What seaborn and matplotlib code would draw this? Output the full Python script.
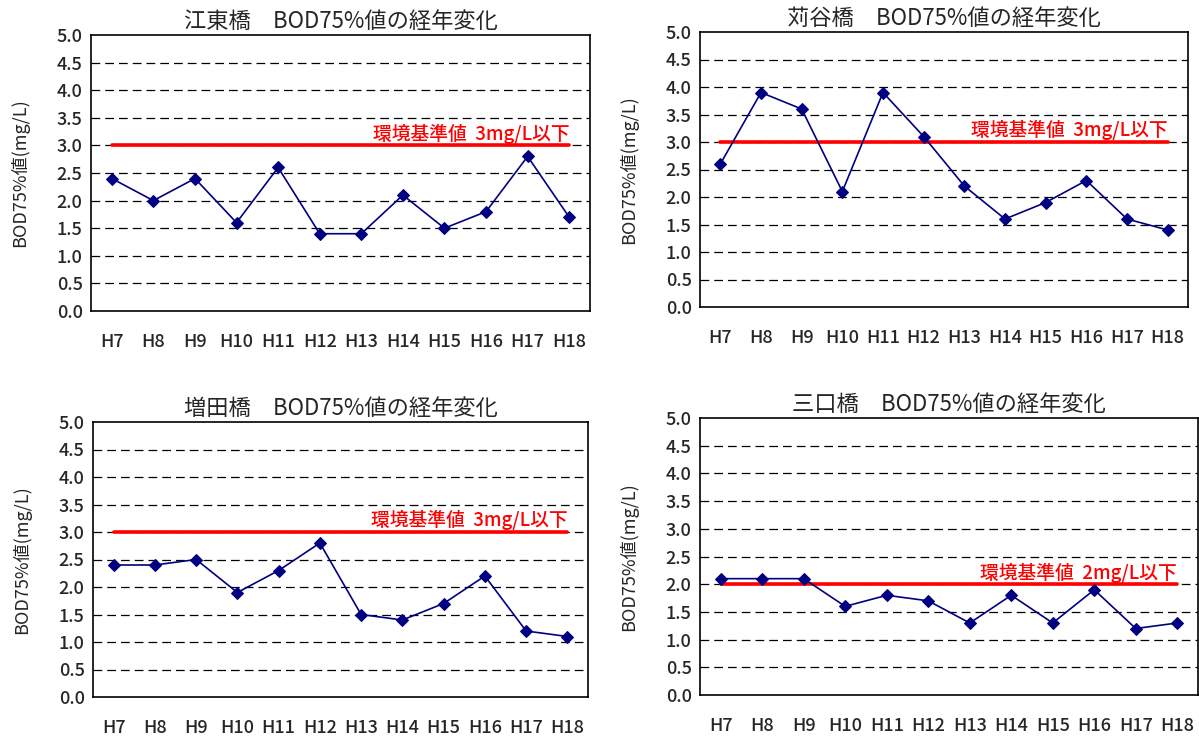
import matplotlib
matplotlib.use("Agg")
import matplotlib.pyplot as plt
import seaborn as sns
import numpy as np
import pandas as pd

sns.set_style("white")
plt.rcParams['font.family'] = ['Noto Sans CJK JP', 'DejaVu Sans']
plt.rcParams['font.weight'] = 'medium'

years = ["H7", "H8", "H9", "H10", "H11", "H12", "H13", "H14", "H15", "H16", "H17", "H18"]

koto = [2.4, 2.0, 2.4, 1.6, 2.6, 1.4, 1.4, 2.1, 1.5, 1.8, 2.8, 1.7]
kariya = [2.6, 3.9, 3.6, 2.1, 3.9, 3.1, 2.2, 1.6, 1.9, 2.3, 1.6, 1.4]
masuda = [2.4, 2.4, 2.5, 1.9, 2.3, 2.8, 1.5, 1.4, 1.7, 2.2, 1.2, 1.1]
mikuchi = [2.1, 2.1, 2.1, 1.6, 1.8, 1.7, 1.3, 1.8, 1.3, 1.9, 1.2, 1.3]

titles = ["江東橋　BOD75%値の経年変化", "苅谷橋　BOD75%値の経年変化",
          "増田橋　BOD75%値の経年変化", "三口橋　BOD75%値の経年変化"]
standards = [3, 3, 3, 2]
std_labels = ["環境基準値  3mg/L以下", "環境基準値  3mg/L以下",
              "環境基準値  3mg/L以下", "環境基準値  2mg/L以下"]
series = [koto, kariya, masuda, mikuchi]

W, H = 1199, 738
fig = plt.figure(figsize=(W / 100, H / 100), dpi=100)

# pixel boxes: left, top, right, bottom
boxes = [(91, 35, 590, 311), (700, 32, 1188, 307),
         (93, 422, 588, 697), (700, 418, 1198, 695)]

for (l, t, r, b), vals, title, std, slab in zip(boxes, series, titles, standards, std_labels):
    ax = fig.add_axes([l / W, 1 - b / H, (r - l) / W, (b - t) / H])
    df = pd.DataFrame({"x": np.arange(len(years)), "y": vals})
    for g in np.arange(0.5, 5.0, 0.5):
        ax.axhline(g, color="black", lw=0.9, ls=(0, (7, 4)), zorder=1)
    ax.plot([0, len(years) - 1], [std, std], color="#ff0000", lw=2.6, zorder=2)
    ax.text(len(years) - 1, std + 0.03, slab, color="#ff0000", fontsize=13.5,
            ha="right", va="bottom", zorder=3)
    sns.lineplot(data=df, x="x", y="y", ax=ax, color="#000080", lw=1.2,
                 marker="D", markersize=6.5, markeredgecolor="#000080", zorder=4)
    ax.set_xlim(-0.5, len(years) - 0.5)
    ax.set_ylim(0, 5.0)
    ax.set_yticks(np.arange(0, 5.01, 0.5))
    ax.set_yticklabels([f"{v:.1f}" for v in np.arange(0, 5.01, 0.5)], fontsize=13)
    ax.set_xticks(np.arange(len(years)))
    ax.set_xticklabels(years, fontsize=13)
    ax.tick_params(axis="x", length=0, pad=16)
    ax.tick_params(axis="y", length=0, pad=6)
    ax.set_xticks(np.arange(0.5, len(years) - 0.5, 1.0), minor=True)
    ax.tick_params(axis="x", which="minor", direction="in", length=5, color="black", width=1)
    ax.set_xlabel("")
    ax.set_ylabel("BOD75%値(mg/L)", fontsize=13, labelpad=20)
    ax.set_title(title, fontsize=16, pad=5)
    for s in ax.spines.values():
        s.set_color("black")
        s.set_linewidth(1.2)

fig.savefig("out.png", dpi=100)
